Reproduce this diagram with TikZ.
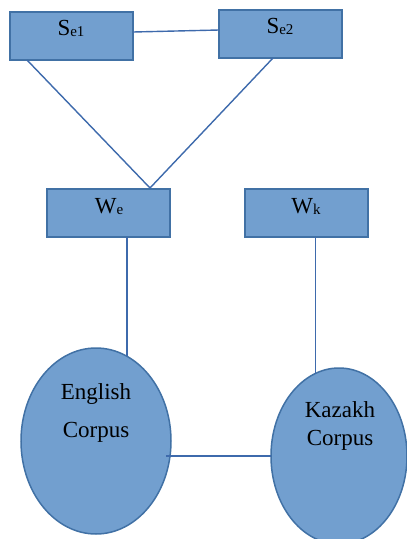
\documentclass[tikz,border=0pt]{standalone}
\usepackage{fontspec}
\setmainfont{Liberation Serif}
\usetikzlibrary{shapes.geometric}
\definecolor{boxfill}{RGB}{114,159,207}
\definecolor{boxedge}{RGB}{65,113,165}
\definecolor{linkcol}{RGB}{62,106,172}
\tikzset{
  rbox/.style={draw=boxedge, fill=boxfill, line width=1.8pt, minimum width=123pt, minimum height=48pt, inner sep=0pt, outer sep=0pt, anchor=north west},
  corp/.style={ellipse, draw=boxedge, fill=boxfill, line width=1.5pt, inner sep=0pt, outer sep=0pt},
  link/.style={draw=linkcol, line width=1.4pt},
  lbl/.style={font=\fontsize{23}{23}\selectfont, inner sep=0pt, anchor=base}
}
\newcommand{\subt}[1]{{\fontsize{15}{15}\selectfont\raisebox{-1.5pt}{#1}}}
\begin{document}
\begin{tikzpicture}[x=1pt,y=-1pt]
\useasboundingbox (0,0) rectangle (407,539);
% boxes
\node[rbox] (se1) at (10,12) {};
\node[rbox] (se2) at (219,10) {};
\node[rbox] (we) at (47,189) {};
\node[rbox] (wk) at (245,189) {};
% ellipses
\node[corp, minimum width=150pt, minimum height=186pt] (eng) at (96,441) {};
\node[corp, minimum width=136pt, minimum height=176pt] (kaz) at (339,456) {};
% labels
\node[lbl] (tse1) at (71,35) {S\subt{e1}};
\node[lbl] (tse2) at (280,33) {S\subt{e2}};
\node[lbl] (twe) at (109,213) {W\subt{e}};
\node[lbl] (twk) at (306,213) {W\subt{k}};
\node[lbl] (teng1) at (96,399) {English};
\node[lbl] (teng2) at (96,437) {Corpus};
\node[lbl] (tkaz1) at (340,417) {Kazakh};
\node[lbl] (tkaz2) at (340,445) {Corpus};
% connectors
\coordinate (apex) at (150,188);
\coordinate (hl) at (166,456);
\draw[link] ([yshift=4pt]se1.east) -- ([yshift=4pt]se2.west);
\draw[link] ([xshift=17pt]se1.south west) -- (apex);
\draw[link] ([xshift=54pt]se2.south west) -- (apex);
\draw[link] (eng.70 |- we.south) -- (eng.70);
\draw[link] (kaz.106 |- wk.south) -- (kaz.106);
\draw[link] (hl) -- (kaz.west);
\end{tikzpicture}
\end{document}
